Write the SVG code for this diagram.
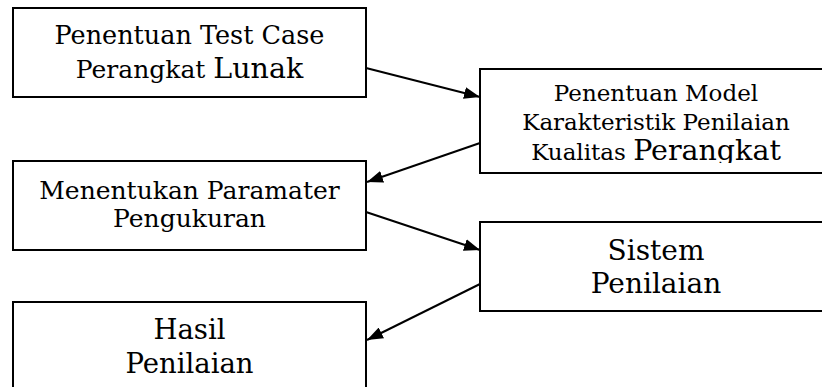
<svg xmlns="http://www.w3.org/2000/svg" width="822" height="387" viewBox="0 0 822 387">
  <defs>
    <marker id="arrow" markerUnits="userSpaceOnUse" markerWidth="16" markerHeight="12" refX="16" refY="6" orient="auto">
      <path d="M0,0 L16,6 L0,12 z" fill="#000"/>
    </marker>
    <clipPath id="clipModel">
      <rect x="480" y="69" width="350" height="94"/>
    </clipPath>
  </defs>
  <style>
    .box { fill: #fff; stroke: #000; stroke-width: 2; }
    .t { font-family: "DejaVu Serif", "Liberation Serif", serif; fill: #000; text-anchor: middle; }
    .conn { stroke: #000; stroke-width: 2; fill: none; }
  </style>
  <rect width="822" height="387" fill="#fff"/>

  <g id="node-testcase">
    <rect class="box" x="13" y="8" width="353" height="89"/>
    <text class="t" x="189.5" y="44" font-size="25.5">Penentuan Test Case</text>
    <text class="t" x="189.5" y="78" font-size="25">Perangkat <tspan font-size="28.5">Lunak</tspan></text>
  </g>

  <g id="node-model">
    <rect class="box" x="480" y="69" width="350" height="104"/>
    <g clip-path="url(#clipModel)">
      <text class="t" x="656" y="101" font-size="23">Penentuan Model</text>
      <text class="t" x="656" y="130" font-size="23">Karakteristik Penilaian</text>
      <text class="t" x="656" y="160" font-size="23">Kualitas <tspan font-size="28.5">Perangkat</tspan></text>
    </g>
  </g>

  <g id="node-parameter">
    <rect class="box" x="13" y="161" width="353" height="89"/>
    <text class="t" x="189.5" y="199" font-size="25">Menentukan Paramater</text>
    <text class="t" x="189.5" y="227" font-size="25">Pengukuran</text>
  </g>

  <g id="node-sistem">
    <rect class="box" x="480" y="222" width="350" height="89"/>
    <text class="t" x="656" y="260" font-size="28">Sistem</text>
    <text class="t" x="656" y="293" font-size="28">Penilaian</text>
  </g>

  <g id="node-hasil">
    <rect class="box" x="13" y="302" width="353" height="100"/>
    <text class="t" x="189.5" y="339" font-size="27.5">Hasil</text>
    <text class="t" x="189.5" y="373" font-size="27.5">Penilaian</text>
  </g>

  <g id="connectors">
    <line class="conn" x1="366" y1="68" x2="480" y2="97" marker-end="url(#arrow)"/>
    <line class="conn" x1="480" y1="143" x2="367" y2="182" marker-end="url(#arrow)"/>
    <line class="conn" x1="366" y1="212" x2="480" y2="250" marker-end="url(#arrow)"/>
    <line class="conn" x1="480" y1="284" x2="367" y2="340" marker-end="url(#arrow)"/>
  </g>
</svg>
